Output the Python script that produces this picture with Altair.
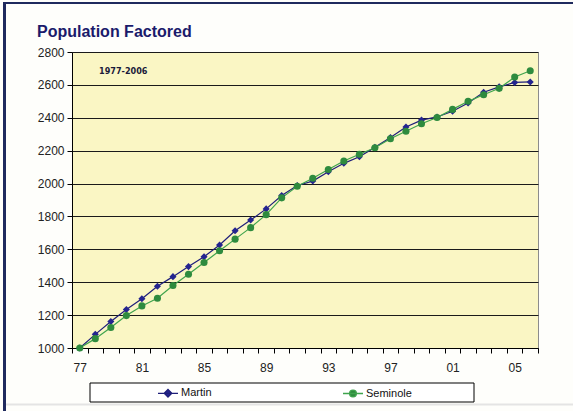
import altair as alt
import pandas as pd

# Population factored, 1977 = 1000
years = list(range(1977, 2007))
martin = [1000, 1083, 1161, 1234, 1299, 1376, 1434, 1495, 1555, 1626,
          1713, 1778, 1846, 1927, 1988, 2015, 2072, 2123, 2163, 2220,
          2280, 2344, 2386, 2405, 2440, 2490, 2555, 2588, 2615, 2618]
seminole = [1000, 1057, 1125, 1197, 1256, 1303, 1380, 1448, 1520, 1591,
            1662, 1732, 1811, 1913, 1984, 2032, 2086, 2137, 2178, 2218,
            2273, 2318, 2364, 2402, 2451, 2500, 2540, 2579, 2648, 2686]
series = ["Martin", "Seminole"]
line_colors = ["#1E1E7A", "#3FA34D"]
point_colors = ["#24248F", "#2E8B3E"]
year_labels = list(range(1977, 2006, 4))
y_ticks = list(range(1000, 2801, 200))

FONT = "Liberation Sans"

df = pd.DataFrame({
    "year": years * 2,
    "value": martin + seminole,
    "series": [series[0]] * len(martin) + [series[1]] * len(seminole),
})

# category-style x axis: each year sits in the middle of its slot
x_scale = alt.Scale(domain=[years[0] - 0.5, years[-1] + 0.5], nice=False, zero=False)
y_scale = alt.Scale(domain=[y_ticks[0], y_ticks[-1]], nice=False, zero=False)

y_axis = alt.Axis(values=y_ticks, format="d", labelOverlap=False, grid=True,
                  gridColor="#1a1a1a", gridWidth=1,
                  domainColor="#000000", tickColor="#000000", tickSize=5,
                  labelFontSize=12, labelColor="#222222", labelPadding=3,
                  labelFont=FONT, title=None)

label_axis = alt.Axis(values=year_labels, labelExpr="format(datum.value % 100, '02d')",
                      labelOverlap=False, ticks=False, tickSize=0,
                      domainColor="#000000", grid=False,
                      labelFontSize=12, labelColor="#222222", labelPadding=14,
                      labelFont=FONT, title=None)

slot_axis = alt.Axis(values=[y - 0.5 for y in years] + [years[-1] + 0.5],
                     labels=False, domain=False, ticks=True, tickSize=5,
                     tickColor="#000000", grid=False, title=None, orient="bottom")

base = alt.Chart(df)

lines = base.mark_line(strokeWidth=1.2).encode(
    x=alt.X("year:Q", scale=x_scale, axis=label_axis),
    y=alt.Y("value:Q", scale=y_scale, axis=y_axis),
    color=alt.Color("series:N", scale=alt.Scale(domain=series, range=line_colors), legend=None),
    detail="series:N",
)

points = base.mark_point(filled=True, size=50, opacity=1).encode(
    x=alt.X("year:Q", scale=x_scale, axis=None),
    y=alt.Y("value:Q", scale=y_scale, axis=y_axis),
    color=alt.Color("series:N", scale=alt.Scale(domain=series, range=point_colors), legend=None),
    shape=alt.Shape("series:N", scale=alt.Scale(domain=series, range=["diamond", "circle"]),
                    legend=None),
)

# legend entries: a short line with the series marker on it
legend_paths = [
    "M-1,0H1M0,-0.38L0.38,0L0,0.38L-0.38,0Z",
    "M-1,0H1M0.34,0A0.34,0.34,0,1,1,-0.34,0A0.34,0.34,0,1,1,0.34,0Z",
]
legend_def = alt.Legend(orient="none", legendX=85, legendY=330, direction="horizontal",
                        columns=2, columnPadding=128, title=None, padding=0,
                        symbolSize=400, symbolStrokeWidth=1.3, symbolOpacity=1,
                        labelFontSize=11, labelFont=FONT, labelColor="#111111",
                        labelOffset=2)

legend_layer = base.transform_filter("false").mark_point(filled=True).encode(
    x=alt.X("year:Q", scale=x_scale, axis=slot_axis),
    y=alt.Y("value:Q", scale=y_scale, axis=y_axis),
    color=alt.Color("series:N", scale=alt.Scale(domain=series, range=point_colors),
                    legend=legend_def),
    stroke=alt.Stroke("series:N", scale=alt.Scale(domain=series, range=line_colors),
                      legend=legend_def),
    shape=alt.Shape("series:N", scale=alt.Scale(domain=series, range=legend_paths),
                    legend=legend_def),
)

decor = alt.Chart(pd.DataFrame({"k": [0]}))

legend_box = decor.mark_rect(fill="#FFFFFF", stroke="#000000", strokeWidth=1).encode(
    x=alt.value(18), x2=alt.value(402), y=alt.value(331), y2=alt.value(350))

frame_left = decor.mark_rule(color="#1F2A5E", strokeWidth=3).encode(
    x=alt.value(-67.5), y=alt.value(-50), y2=alt.value(359))
frame_top = decor.mark_rule(color="#1F2A5E", strokeWidth=2).encode(
    x=alt.value(-69), x2=alt.value(501), y=alt.value(-49))
frame_bottom = decor.mark_rule(color="#E4E4E4", strokeWidth=2).encode(
    x=alt.value(-66), x2=alt.value(501), y=alt.value(352.5))

title_text = decor.mark_text(text="Population Factored", align="left", baseline="alphabetic",
                             font=FONT, fontSize=16, fontWeight="bold",
                             color="#1B1B6B").encode(x=alt.value(-35), y=alt.value(-15))

period = decor.mark_text(text="1977-2006", align="left", baseline="middle",
                         font="DejaVu Sans Condensed, Liberation Sans", fontSize=9,
                         fontWeight="bold", color="#1a1a3a").encode(
    x=alt.value(27), y=alt.value(19))

chart = alt.layer(
    frame_left, frame_top, frame_bottom, legend_box, lines, points, legend_layer,
    period, title_text
).resolve_scale(
    x="independent", color="independent", shape="independent", stroke="independent"
).properties(
    width=466,
    height=296,
    autosize=alt.AutoSizeParams(type="none"),
    padding={"left": 72, "top": 52, "right": 35, "bottom": 63},
    background="#FEFEFB",
).configure_view(
    fill="#FAF6C4", stroke="#8C8C8C", strokeWidth=1
)

chart.save("out.html", embed_options={"renderer": "svg", "actions": False})
